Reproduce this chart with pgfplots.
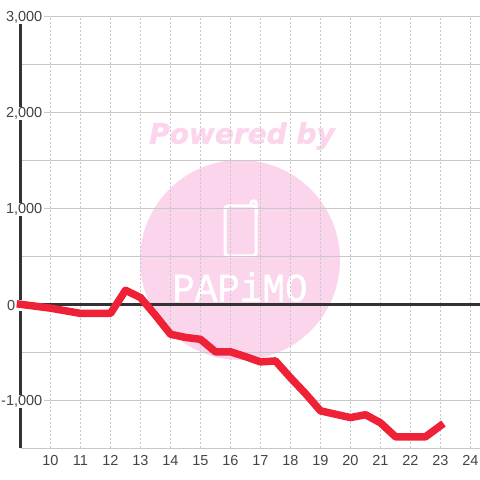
\documentclass[border=0pt]{standalone}
\usepackage{fontspec}
\setmainfont{Liberation Sans}
\newfontfamily\logofont[FakeBold=1.2]{Liberation Mono}
\newfontfamily\wmfont[FakeBold=1.5]{DejaVu Sans Bold Oblique}
\usepackage{pgfplots}
\pgfplotsset{compat=1.18}
\definecolor{wmpink}{HTML}{FBD5EC}
\definecolor{gridgray}{HTML}{C8C8C8}
\definecolor{axisdark}{HTML}{333333}
\definecolor{labelgray}{HTML}{444444}
\definecolor{linered}{HTML}{EE2136}

\pgfplotstableread{
x y
9 0
10 -40
11 -95
12 -95
12.5 146
13 70
13.5 -115
14 -312
14.5 -345
15 -365
15.5 -495
16 -495
16.5 -545
17 -600
17.5 -590
18 -765
18.5 -930
19 -1110
19.5 -1145
20 -1180
20.5 -1150
21 -1235
21.5 -1380
22 -1380
22.5 -1380
23 -1265
}\datatable

\begin{document}
\begin{tikzpicture}[x=1pt,y=1pt]
\path[use as bounding box] (-20,-32) rectangle (460,448);
% watermark, under the grid
\fill[wmpink] (220,188) circle (100);
\node[wmpink,font=\wmfont\fontsize{28}{28}\selectfont] at (222,312) {Powered by};
\draw[white,line width=3pt,rounded corners=3pt] (205,242) rectangle (236,192);
\draw[white,line width=3pt,rounded corners=2pt] (231,242) -- (231,247) -- (236,247) -- (236,235);
\node[white,font=\logofont\fontsize{40}{40}\selectfont,xscale=0.94,yscale=1.0] at (220,161) {PAPiMO};
\begin{axis}[
    at={(0.5pt,-0.3pt)}, anchor=south west,
    scale only axis, width=459.5pt, height=432pt,
    xmin=9, xmax=24.317, ymin=-1500, ymax=3000,
    clip=false,
    axis x line=none,
    axis y line=none,
    hide x axis=false, hide y axis=false,
    axis line style={draw=none},
    separate axis lines,
    y axis line style={draw=axisdark,line width=3.5pt},
    x axis line style={draw=none},
    xtick={10,...,24},
    ytick={-1000,1000,2000,3000},
    minor ytick={-1500,-500,500,1500,2500},
    extra y ticks={0},
    extra y tick labels={0\rule{27pt}{0pt}},
    extra y tick style={
        tick label style={fill=none},
    },
    major tick length=0pt, minor tick length=0pt,
    grid=both,
    x grid style={draw=gridgray,line width=1pt,dash pattern=on 2pt off 2pt},
    major grid style={draw=gridgray,line width=1pt},
    minor grid style={draw=gridgray,line width=1pt},
    /pgf/number format/1000 sep={,},
    /pgf/number format/assume math mode=true,
    yticklabel style={
        font=\fontsize{14.5}{14.5}\selectfont, text=labelgray,
        anchor=east, xshift=23.5pt, yshift=-1.2pt, fill=white, inner xsep=1.5pt, inner ysep=0.5pt,
    },
    xticklabel style={
        font=\fontsize{14.5}{14.5}\selectfont, text=labelgray,
        anchor=north, yshift=-4pt,
    },
]
\addplot[axisdark,line width=3pt] coordinates {(9,0) (24.317,0)};
\addplot[linered,line width=7.5pt,line join=round,line cap=rect] table {\datatable};
\end{axis}
\end{tikzpicture}
\end{document}
